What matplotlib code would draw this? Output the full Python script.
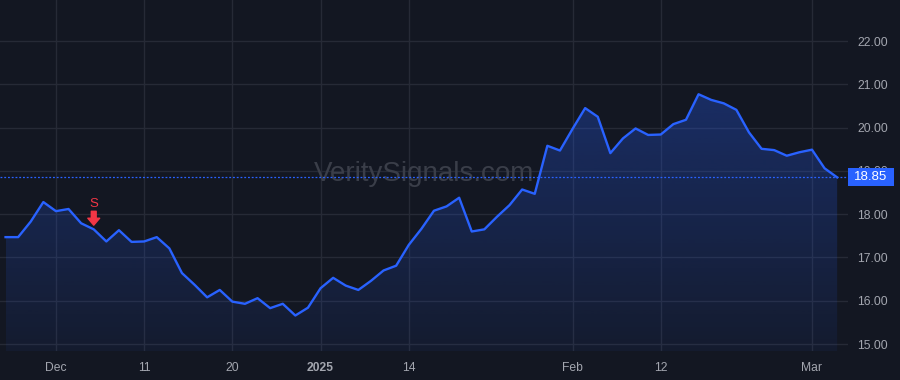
import numpy as np
import matplotlib
matplotlib.use("Agg")
import matplotlib.pyplot as plt
from matplotlib.patches import Polygon, Rectangle
import matplotlib.transforms as mtransforms

plt.rcParams['font.family'] = ['Liberation Sans', 'DejaVu Sans']

# ---- data ----
prices = [17.47, 17.47, 17.83, 18.28, 18.07, 18.12, 17.79, 17.65, 17.37, 17.63,
          17.36, 17.37, 17.47, 17.21, 16.64, 16.37, 16.08, 16.25, 15.98, 15.93,
          16.06, 15.83, 15.93, 15.66, 15.84, 16.29, 16.53, 16.35, 16.25, 16.46,
          16.70, 16.81, 17.29, 17.66, 18.08, 18.18, 18.38, 17.60, 17.65, 17.94,
          18.21, 18.57, 18.47, 19.58, 19.47, 19.97, 20.45, 20.25, 19.41, 19.75,
          19.98, 19.83, 19.84, 20.08, 20.18, 20.77, 20.64, 20.56, 20.41, 19.89,
          19.51, 19.48, 19.35, 19.43, 19.49, 19.06, 18.85]
tick_index = [4, 11, 18, 25, 32, 45, 52, 64]
tick_labels = ['Dec', '11', '20', '2025', '14', 'Feb', '12', 'Mar']
y_ticks = [15, 16, 17, 18, 19, 20, 21, 22]
signal_index = [7]
signal_labels = ['S']
last_price = 18.85
watermark = 'VeritySignals.com'

BG = '#131722'
GRID = '#262a36'
LINE = '#2962FF'
TXT = '#a3a6af'
RED = '#F23645'

x = np.arange(len(prices))
y = np.array(prices)

fig = plt.figure(figsize=(9, 3.8), dpi=100, facecolor=BG)
ax = fig.add_axes([0, 1 - 351 / 380, 848 / 900, 351 / 380])
ax.set_facecolor(BG)

xmin, xmax = -0.44, 66.86
ymin, ymax = 14.84, 22.947
ax.set_xlim(xmin, xmax)
ax.set_ylim(ymin, ymax)

# grid
ax.set_xticks(tick_index)
ax.set_xticklabels(tick_labels)
ax.set_yticks(y_ticks)
ax.set_yticklabels([f'{v:.2f}' for v in y_ticks])
ax.grid(True, color=GRID, linewidth=1)
ax.set_axisbelow(True)
for s in ax.spines.values():
    s.set_visible(False)
ax.yaxis.tick_right()
ax.tick_params(axis='both', length=0, colors=TXT, labelsize=8.7)
ax.tick_params(axis='y', pad=6.5)
ax.tick_params(axis='x', pad=8)
for lab in ax.get_xticklabels():
    if lab.get_text() == '2025':
        lab.set_fontweight('bold')

# watermark
ax.text(0.5, 0.505, watermark, transform=ax.transAxes, ha='center', va='center',
        fontsize=20, color='#3a3e49', zorder=1)

# gradient fill
grad = np.linspace(0.06, 0.30, 256)
rgba = np.zeros((256, 1, 4))
rgba[..., 0] = 0x29 / 255
rgba[..., 1] = 0x62 / 255
rgba[..., 2] = 0xFF / 255
rgba[:, 0, 3] = grad
im = ax.imshow(rgba, extent=[x[0], x[-1], ymin, y.max()], origin='lower',
               aspect='auto', zorder=2, interpolation='bilinear')
verts = np.vstack([[x[0], ymin], np.column_stack([x, y]), [x[-1], ymin]])
poly = Polygon(verts, closed=True, facecolor='none', edgecolor='none')
ax.add_patch(poly)
im.set_clip_path(poly)
ax.set_xlim(xmin, xmax)
ax.set_ylim(ymin, ymax)

# line
ax.plot(x, y, color=LINE, linewidth=1.7, zorder=4)

# last price dotted line
ax.axhline(last_price, color=LINE, linewidth=0.9, linestyle=(0, (1.5, 1.5)), zorder=3)

# price label (covers the tick label behind it, as in the source)
trans = mtransforms.blended_transform_factory(ax.transAxes, ax.transData)
px_per_unit = 43.3
box = Rectangle((1.0, last_price - 9 / px_per_unit), 46 / 848, 18 / px_per_unit,
                transform=trans, facecolor=LINE, edgecolor='none', zorder=10,
                clip_on=False)
ax.add_patch(box)
ax.text(1.0 + 23 / 848, last_price, f'{last_price:.2f}', transform=trans,
        ha='center', va='center', fontsize=9.5, color='white', zorder=11,
        clip_on=False)

# signals
for si, sl in zip(signal_index, signal_labels):
    ax.annotate('', xy=(si, prices[si]), xytext=(0, 13), textcoords='offset points',
                arrowprops=dict(arrowstyle='simple,head_length=0.5,head_width=0.85,tail_width=0.35',
                                color=RED, shrinkA=0, shrinkB=3), zorder=6)
    ax.annotate(sl, xy=(si, prices[si]), xytext=(0, 18), textcoords='offset points',
                ha='center', va='center', fontsize=9.5, color=RED, zorder=6)

fig.savefig('out.png', dpi=100, facecolor=BG)
